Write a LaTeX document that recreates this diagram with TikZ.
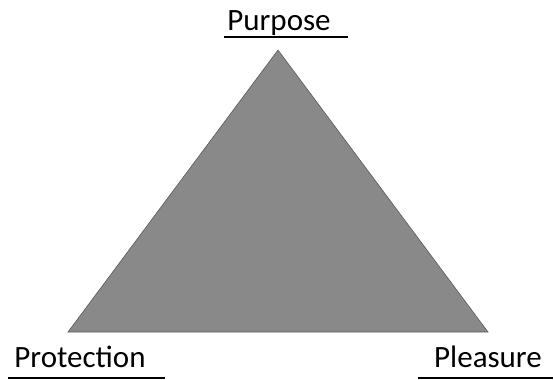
\documentclass[tikz,border=0pt]{standalone}
\usepackage{fontspec}
\setmainfont{Carlito}
\usepackage{tikz}
\usetikzlibrary{positioning}
\definecolor{trifill}{HTML}{898989}
\definecolor{triedge}{HTML}{5a5a5a}
\tikzset{
    corner/.style={
        font=\fontsize{31}{36}\selectfont,
        inner sep=0pt,
        anchor=base
    },
    tri/.style={
        fill=trifill,
        draw=triedge,
        line width=0.6pt,
        line join=miter
    },
    uline/.style={
        line width=1.6pt,
        black
    },
}
\begin{document}
\begin{tikzpicture}[x=1pt, y=-1pt]
        \useasboundingbox (0,0) rectangle (554,380);
        \coordinate (top) at (278,50);
        \coordinate (left) at (68,332);
        \coordinate (right) at (488,332);

        \draw[tri] (top) -- (left) -- (right) -- cycle;

        \node[corner] (purpose) at (279,30) {Purpose};
        \node[corner] (protection) at (80,367) {Protection};
        \node[corner] (pleasure) at (488,367) {Pleasure};

        \foreach \a/\b/\y in {224/348/37, 8/165/378, 418/553/378}
            \draw[uline] (\a,\y) -- (\b,\y);
\end{tikzpicture}
\end{document}
